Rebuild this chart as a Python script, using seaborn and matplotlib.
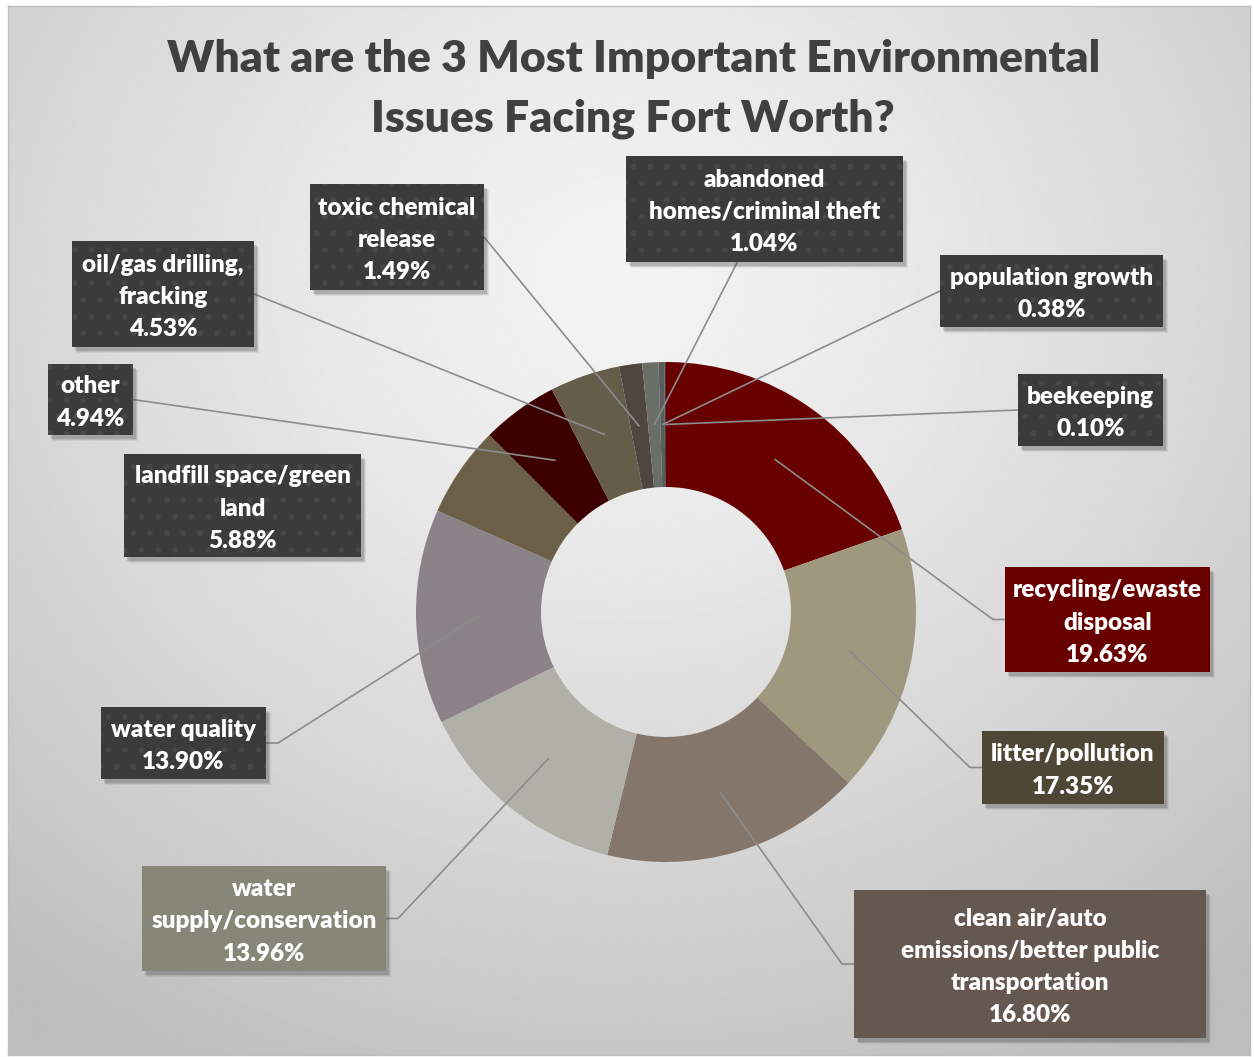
import numpy as np
import matplotlib.pyplot as plt
from matplotlib.patches import Rectangle
import seaborn as sns

# survey answers, clockwise from 12 o'clock
issues = [
    "recycling/ewaste\ndisposal",
    "litter/pollution",
    "clean air/auto\nemissions/better public\ntransportation",
    "water\nsupply/conservation",
    "water quality",
    "landfill space/green\nland",
    "other",
    "oil/gas drilling,\nfracking",
    "toxic chemical\nrelease",
    "abandoned\nhomes/criminal theft",
    "population growth",
    "beekeeping",
]
shares = [19.63, 17.35, 16.80, 13.96, 13.90, 5.88, 4.94, 4.53, 1.49, 1.04, 0.38, 0.10]

slice_colors = ["#690000", "#a0977f", "#85766c", "#b1b0a8", "#8b8387", "#6b5f48",
                "#3c0000", "#655c4a", "#4f4640", "#6a6e68", "#5c5c5e", "#4a3a36"]
box_colors = ["#690000", "#4f4736", "#655850", "#868779", "#3b3b3b", "#3b3b3b",
              "#3b3b3b", "#3b3b3b", "#3b3b3b", "#3b3b3b", "#3b3b3b", "#3b3b3b"]
dotted = [False, False, False, False, True, True, True, True, True, True, True, True]

# label boxes in picture pixels: left, top, right, bottom
boxes = [
    (1005, 567, 1210, 672),
    (982, 731, 1164, 804),
    (854, 890, 1206, 1038),
    (142, 866, 386, 971),
    (101, 707, 266, 779),
    (124, 454, 361, 557),
    (48, 364, 133, 435),
    (72, 241, 254, 347),
    (310, 184, 484, 290),
    (626, 156, 903, 262),
    (940, 255, 1163, 327),
    (1018, 374, 1163, 446),
]
leader = ["elbow", "elbow", "elbow", "elbow", "elbow", "none",
          "straight", "straight", "straight", "bottom", "straight", "straight"]

W, H = 1254, 1057
sns.set_theme(style="white")
plt.rcParams["font.family"] = ["Lato", "DejaVu Sans"]
plt.rcParams["hatch.linewidth"] = 1.6

fig = plt.figure(figsize=(W / 100, H / 100), dpi=100)
fig.patch.set_facecolor("white")

# soft radial background like the office chart area
bg = fig.add_axes([8 / W, 2 / H, (W - 12) / W, (H - 8) / H])
yy, xx = np.mgrid[0:H, 0:W]
d = np.hypot(xx - 620, (yy - 280) * 1.1) / 900
shade = np.clip(0.955 - 0.19 * d ** 1.3, 0.74, 1)
bg.imshow(shade, cmap="gray", vmin=0, vmax=1, aspect="auto", extent=(0, W, H, 0))
bg.set_xticks([])
bg.set_yticks([])
for s in bg.spines.values():
    s.set_color("#bfbfbf")
    s.set_linewidth(1)

ax = fig.add_axes([0, 0, 1, 1])
ax.patch.set_alpha(0)
cx, cy, R = 666, H - 612, 250
wedges, _ = ax.pie(shares, colors=slice_colors, startangle=90, counterclock=False,
                   radius=R, center=(cx, cy),
                   wedgeprops=dict(width=R / 2, linewidth=0))
ax.set_xlim(0, W)
ax.set_ylim(0, H)
ax.set_aspect("equal")
ax.axis("off")

fig.text(0.505, 1 - 59 / H, "What are the 3 Most Important Environmental",
         ha="center", va="center", fontsize=32, fontweight="heavy", color="#404040")
fig.text(0.505, 1 - 119 / H, "Issues Facing Fort Worth?",
         ha="center", va="center", fontsize=32, fontweight="heavy", color="#404040")

for i, (name, v) in enumerate(zip(issues, shares)):
    x0, t, x1, b = boxes[i]
    y0, y1 = H - b, H - t
    # drop shadow
    for k, a in [(6, 0.08), (5, 0.12), (4, 0.18)]:
        ax.add_patch(Rectangle((x0 + k - 1, y0 - k), x1 - x0, y1 - y0,
                               facecolor="#3a3a3a", alpha=a, linewidth=0, zorder=3.5))
    ax.add_patch(Rectangle((x0, y0), x1 - x0, y1 - y0, facecolor=box_colors[i],
                           edgecolor="#474747" if dotted[i] else box_colors[i],
                           hatch="." if dotted[i] else None, linewidth=0, zorder=4))
    ax.text((x0 + x1) / 2, (y0 + y1) / 2 - 3, f"{name}\n{v:.2f}%", ha="center", va="center",
            color="white", fontsize=17.5, fontweight="heavy", linespacing=1.57, zorder=5)

    w = wedges[i]
    mid = np.deg2rad((w.theta1 + w.theta2) / 2)
    ax_ = cx + 0.75 * R * np.cos(mid)
    ay_ = cy + 0.75 * R * np.sin(mid)
    ym = (y0 + y1) / 2
    side = x0 if ax_ < x0 else x1
    if leader[i] == "elbow":
        stub = side - 12 if side == x0 else side + 12
        xs, ys = [ax_, stub, side], [ay_, ym, ym]
    elif leader[i] == "straight":
        xs, ys = [ax_, side], [ay_, ym]
    elif leader[i] == "bottom":
        cxb = (x0 + x1) / 2
        frac = (y0 - ay_) / (ym - ay_)
        xs, ys = [ax_, ax_ + frac * (cxb - ax_)], [ay_, y0]
    else:
        continue
    ax.plot(xs, ys, color="#8c8c8c", lw=1.2, zorder=3, solid_capstyle="butt")

fig.savefig("out.png", dpi=100)
